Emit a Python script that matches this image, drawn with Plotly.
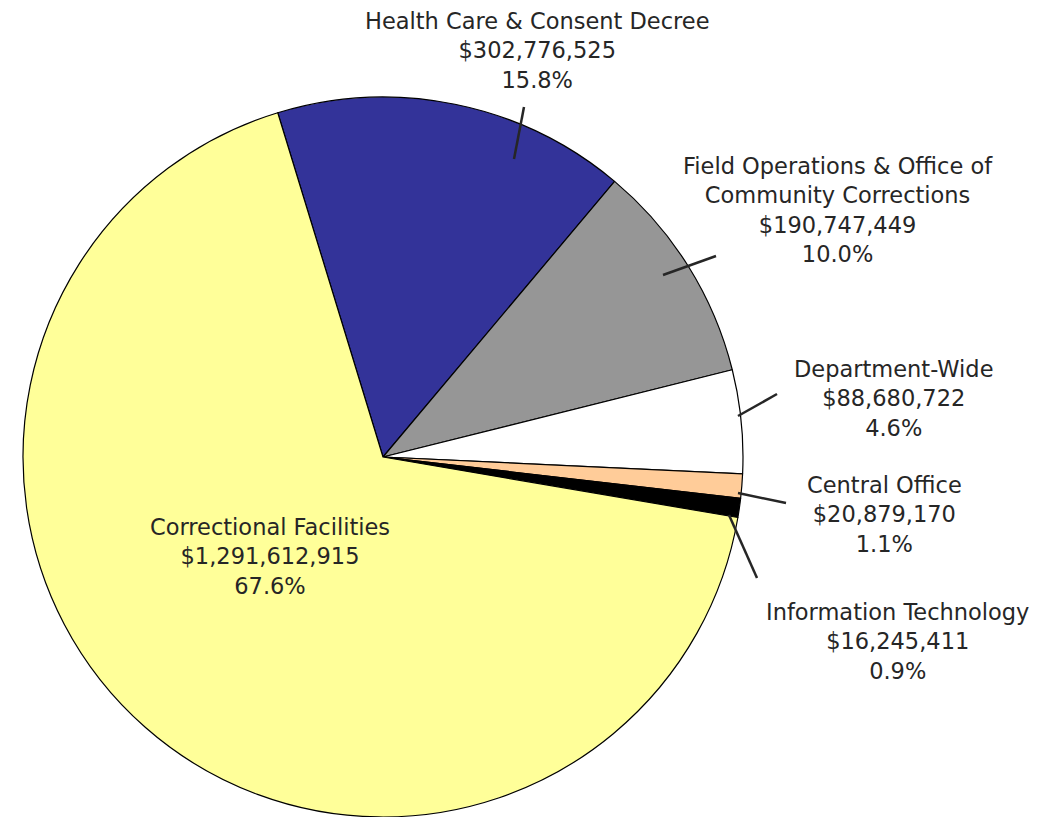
import plotly.graph_objects as go

categories = [
    "Health Care & Consent Decree",
    "Field Operations & Office of<br>Community Corrections",
    "Department-Wide",
    "Central Office",
    "Information Technology",
    "Correctional Facilities",
]
values = [302776525, 190747449, 88680722, 20879170, 16245411, 1291612915]
colors = ["#333399", "#969696", "#FFFFFF", "#FFCC99", "#000000", "#FFFF99"]

W, H = 1044, 817
OFF = 8  # page body margin offset
total = sum(values)


def px(x):
    return (x - OFF) / W


def py(y):
    return 1 - (y - OFF) / H


fig = go.Figure()
fig.add_trace(go.Pie(
    labels=categories,
    values=values,
    sort=False,
    direction="clockwise",
    rotation=-17,
    marker=dict(colors=colors, line=dict(color="#000000", width=1.2)),
    textinfo="none",
    hoverinfo="label+value+percent",
    showlegend=False,
    domain=dict(x=[px(23), px(743)], y=[py(817), py(97)]),
))

# label block centres (pixels) and leader lines (pixels)
label_pos = [(537, 51), (838, 210), (894, 398), (884, 514), (897, 641), (270, 556)]
leaders = [
    ((524, 107), (514, 159)),
    ((716, 256), (663, 275)),
    ((777, 394), (738, 416)),
    ((786, 503), (738, 493)),
    ((757, 578), (729, 515)),
    None,
]

font = dict(family="DejaVu Sans, Verdana, sans-serif", size=22.5, color="#262626")
for name, v, (cx, cy), ld in zip(categories, values, label_pos, leaders):
    txt = f"{name}<br>${v:,}<br>{v / total * 100:.1f}%"
    fig.add_annotation(
        text=txt, x=px(cx), y=py(cy), xref="paper", yref="paper",
        xanchor="center", yanchor="middle", showarrow=False, font=font, align="center",
    )
    if ld:
        (x0, y0), (x1, y1) = ld
        fig.add_shape(
            type="line", xref="paper", yref="paper",
            x0=px(x0), y0=py(y0), x1=px(x1), y1=py(y1),
            line=dict(color="#262626", width=2.5),
        )

fig.update_layout(
    width=W, height=H,
    margin=dict(l=0, r=0, t=0, b=0),
    paper_bgcolor="white", plot_bgcolor="white",
)
fig.write_html("out.html")
